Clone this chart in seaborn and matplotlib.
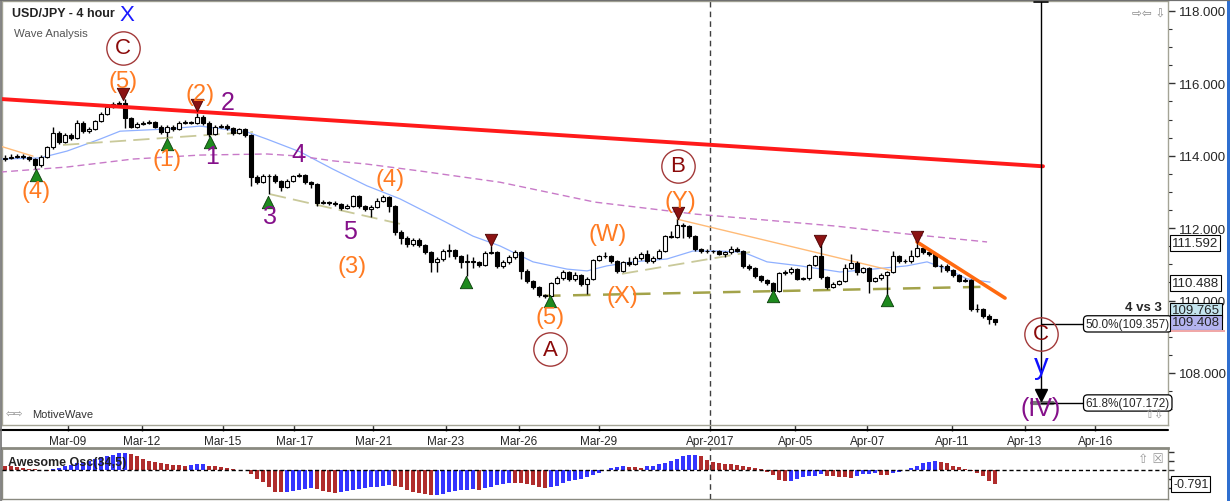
import numpy as np
import pandas as pd
import matplotlib
matplotlib.use("Agg")
import matplotlib.pyplot as plt
from matplotlib.lines import Line2D
from matplotlib.patches import Rectangle
import seaborn as sns

# ------------------------------------------------------------------ data
first_open = 113.91
closes = [113.94,113.97,113.99,113.97,113.91,113.75,113.97,114.24,114.63,114.38,
 114.57,114.49,114.91,114.69,114.74,114.96,115.15,115.35,115.43,115.46,
 115.04,114.80,114.88,114.91,114.93,114.80,114.66,114.80,114.74,114.91,
 114.93,114.91,115.07,114.91,114.60,114.80,114.82,114.77,114.63,114.74,
 114.57,113.41,113.28,113.44,113.44,113.30,113.14,113.30,113.44,113.47,
 113.28,113.22,112.70,112.72,112.70,112.67,112.56,112.61,112.89,112.61,
 112.53,112.59,112.75,112.86,112.61,111.90,111.73,111.56,111.67,111.54,
 111.34,111.07,111.15,111.37,111.40,111.23,111.07,111.09,111.07,110.98,
 111.31,111.34,110.96,111.07,111.20,111.34,110.82,110.54,110.38,110.15,
 110.13,110.49,110.62,110.79,110.60,110.71,110.46,110.60,111.12,111.23,
 111.23,111.09,110.82,111.07,111.01,111.18,111.29,111.09,111.18,111.37,
 111.78,111.76,112.09,112.06,111.78,111.43,111.37,111.37,111.37,111.29,
 111.34,111.43,111.37,110.96,110.90,110.68,110.57,110.49,110.27,110.76,
 110.79,110.87,110.60,110.62,110.98,111.23,110.65,110.38,110.46,110.54,
 110.90,111.04,110.79,110.90,110.54,110.62,110.71,110.79,111.23,111.09,
 111.09,111.23,111.45,111.34,111.29,110.96,110.96,110.85,110.71,110.54,
 110.57,109.77,109.77,109.57,109.49,109.41]
highs = [114.02,114.04,114.06,114.05,114.00,113.95,114.02,114.28,114.80,114.68,
 114.62,114.62,114.98,114.95,114.80,115.00,115.20,115.40,115.48,115.52,
 115.57,115.08,114.92,114.95,115.00,114.97,114.84,114.86,114.85,114.96,
 114.98,114.97,115.18,115.12,114.95,114.85,114.87,114.88,114.80,114.78,
 114.78,114.60,113.46,113.49,113.50,113.50,113.34,113.35,113.48,113.52,
 113.50,113.30,113.25,112.78,112.76,112.76,112.70,112.66,112.93,112.92,
 112.64,112.64,112.84,112.92,112.90,112.64,111.94,111.78,111.72,111.72,
 111.57,111.38,111.20,111.42,111.57,111.43,111.27,111.30,111.20,111.10,
 111.36,111.51,111.38,111.12,111.25,111.40,111.38,110.86,110.58,110.40,
 110.18,110.52,110.68,110.84,110.82,110.78,110.74,110.65,111.15,111.27,
 111.33,111.26,111.12,111.10,111.20,111.22,111.33,111.40,111.22,111.42,
 111.82,111.92,112.25,112.13,112.10,111.80,111.46,111.42,111.41,111.40,
 111.38,111.50,111.48,111.40,111.00,110.93,110.72,110.60,110.52,110.80,
 110.84,110.92,110.90,110.66,111.02,111.27,111.62,110.68,110.50,110.58,
 111.00,111.30,111.08,110.94,110.93,110.66,110.75,110.83,111.38,111.26,
 111.14,111.40,111.62,111.48,111.38,111.32,111.02,111.00,110.88,110.74,
 110.62,110.60,109.90,109.80,109.62,109.50]
lows = [113.86,113.90,113.93,113.92,113.85,113.63,113.70,113.94,114.20,114.33,
 114.34,114.44,114.46,114.64,114.64,114.70,114.93,115.12,115.32,115.40,
 114.78,114.76,114.77,114.84,114.87,114.76,114.60,114.52,114.69,114.70,
 114.88,114.87,114.88,114.86,114.52,114.57,114.77,114.72,114.58,114.60,
 114.52,113.17,113.22,113.24,112.94,113.25,113.04,113.10,113.27,113.41,
 113.23,113.10,112.62,112.66,112.65,112.62,112.50,112.52,112.58,112.56,
 112.48,112.31,112.55,112.72,112.45,111.82,111.56,111.48,111.52,111.47,
 111.28,110.78,110.80,111.10,111.20,111.15,110.90,110.68,110.90,110.94,
 110.95,111.28,110.90,110.90,111.02,111.15,110.60,110.48,110.32,110.10,
 110.07,110.10,110.45,110.58,110.55,110.55,110.40,110.18,110.56,111.08,
 111.18,111.05,110.75,110.78,110.96,110.98,111.13,111.05,111.05,111.14,
 111.33,111.72,111.72,111.74,111.73,111.38,111.32,111.31,111.32,111.25,
 111.20,111.30,111.33,110.90,110.85,110.62,110.52,110.44,110.21,110.24,
 110.72,110.74,110.56,110.57,110.58,110.95,110.60,110.33,110.35,110.42,
 110.50,110.86,110.70,110.75,110.22,110.50,110.58,109.88,110.76,111.05,
 111.04,111.05,111.20,111.30,111.22,110.92,110.80,110.78,110.66,110.50,
 110.50,109.70,109.68,109.52,109.36,109.33]
ao_values = [0.24,0.21,0.15,0.09,0.06,0.04,0.01,-0.04,0.06,0.11,
 0.24,0.30,0.40,0.47,0.53,0.62,0.72,0.77,0.87,0.96,
 0.98,0.90,0.81,0.62,0.49,0.43,0.40,0.34,0.30,0.26,
 0.24,0.28,0.32,0.36,0.24,0.21,0.15,0.09,0.06,0.02,
 -0.02,-0.23,-0.51,-0.70,-0.98,-1.22,-1.26,-1.22,-1.17,-1.11,
 -1.07,-1.04,-1.07,-1.17,-1.22,-1.28,-1.24,-1.19,-1.13,-1.07,
 -1.04,-0.98,-0.94,-0.89,-0.85,-0.89,-0.98,-1.11,-1.22,-1.30,
 -1.36,-1.43,-1.41,-1.36,-1.26,-1.17,-1.13,-1.11,-1.09,-1.11,
 -1.04,-0.94,-0.85,-0.79,-0.72,-0.73,-0.75,-0.79,-0.87,-0.94,
 -1.00,-0.98,-0.89,-0.73,-0.60,-0.55,-0.51,-0.41,-0.28,-0.17,
 0.02,0.13,0.19,0.21,0.17,0.15,0.13,0.21,0.24,0.34,
 0.40,0.49,0.62,0.77,0.85,0.87,0.77,0.58,0.47,0.38,
 0.36,0.34,0.28,0.24,0.15,0.09,0.04,-0.13,-0.26,-0.56,
 -0.62,-0.60,-0.51,-0.41,-0.36,-0.32,-0.24,-0.32,-0.36,-0.40,
 -0.41,-0.43,-0.36,-0.24,-0.21,-0.19,-0.26,-0.28,-0.19,-0.09,
 0.02,0.09,0.24,0.38,0.43,0.49,0.47,0.38,0.24,0.15,
 0.04,-0.04,-0.17,-0.36,-0.60,-0.79]

date_ticks = [10.5, 22.8, 36.3, 48.2, 61.4, 73.5, 85.6, 99.0, 117.5, 131.7, 143.7, 157.8, 170.0, 181.7]
date_labels = ["Mar-09", "Mar-12", "Mar-15", "Mar-17", "Mar-21", "Mar-23", "Mar-26",
               "Mar-29", "Apr-2017", "Apr-05", "Apr-07", "Apr-11", "Apr-13", "Apr-16"]

# moving averages read at anchor bars
ma_fast_x = [-0.83, 5.83, 10.33, 15.83, 19.17, 27.0, 32.5, 40.33, 43.67, 49.17, 54.67, 60.33,
             65.83, 72.5, 78.0, 82.5, 88.0, 93.67, 97.0, 100.33, 104.67, 110.33, 114.67,
             118.67, 123.0, 127.0, 132.5, 139.17, 144.67, 150.33, 153.67, 157.0, 160.33, 164.17]
ma_fast_y = [113.91, 113.94, 114.13, 114.46, 114.68, 114.74, 114.82, 114.66, 114.46, 114.11,
             113.63, 113.17, 112.81, 112.25, 111.78, 111.51, 111.07, 110.87, 110.82, 110.96,
             111.07, 111.15, 111.37, 111.37, 111.34, 111.07, 110.96, 110.79, 110.87, 110.96,
             111.07, 110.87, 110.60, 110.51]
ma_slow_x = [-0.83, 10.33, 21.33, 32.5, 43.67, 49.17, 54.67, 60.33, 69.17, 82.5, 98.33,
             115.0, 125.0, 138.33, 150.33, 163.67]
ma_slow_y = [113.55, 113.69, 113.91, 114.02, 114.05, 113.99, 113.86, 113.77, 113.58, 113.27,
             112.72, 112.39, 112.25, 112.06, 111.84, 111.62]

# trend lines (bar index, price)
red_line_x, red_line_y = [-0.83, 173.0], [115.57, 113.71]
orange_line_x, orange_line_y = [152.0, 166.67], [111.62, 110.07]
olive_line_x, olive_line_y = [89.67, 163.0], [110.13, 110.38]
khaki_lines = [([9.67, 41.33], [114.30, 114.66]),
               ([44.17, 65.83], [112.94, 112.12]),
               ([102.83, 124.17], [110.74, 111.34])]
peach_lines = [([-0.83, 4.67], [114.27, 113.99]),
               ([112.0, 148.0], [112.25, 110.82])]

# swing markers
tops_x = [19.67, 32.0, 81.0, 112.17, 135.83, 152.0]
tops_y = [115.71, 115.40, 111.67, 112.42, 111.65, 111.76]
bottoms_x = [5.17, 27.0, 34.17, 43.83, 76.83, 90.83, 128.0, 147.0]
bottoms_y = [113.47, 114.33, 114.38, 112.72, 110.51, 109.99, 110.13, 110.02]

# wave labels
orange_labels = [("(5)", 19.67, 116.07), ("(2)", 32.5, 115.71), ("(1)", 27.0, 113.91),
                 ("(4)", 5.17, 113.03), ("(4)", 64.17, 113.36), ("(3)", 57.83, 110.96),
                 ("(5)", 90.83, 109.55), ("(W)", 100.5, 111.84), ("(X)", 102.83, 110.12),
                 ("(Y)", 112.5, 112.75)]
purple_labels = [("2", 37.17, 115.49), ("1", 34.5, 114.0), ("4", 48.83, 114.05),
                 ("3", 44.17, 112.34), ("5", 57.5, 111.92), ("(IV)", 172.67, 107.04)]
circle_labels = [("C", 19.67, 116.98), ("A", 90.83, 108.66), ("B", 112.17, 113.72),
                 ("C", 172.67, 109.08)]

proj_x = 172.67
fib_levels = [109.357, 107.172]
fib_texts = ["50.0%(109.357)", "61.8%(107.172)"]
price_ticks = [108, 110, 112, 114, 116, 118]
price_boxes = [("111.592", 111.592, "white"), ("110.488", 110.488, "white"),
               ("109.765", 109.73, "#c4e4ee"), ("109.408", 109.40, "#b3b3ef")]
ao_last = -0.791

# ------------------------------------------------------------------ style
sns.set_theme(style="white")
plt.rcParams["font.family"] = ["Liberation Sans", "DejaVu Sans"]

W, H = 1230, 502
fig = plt.figure(figsize=(W / 100, H / 100), dpi=100)
fig.patch.set_facecolor("white")

def fx(px):
    return px / W

def fy(py):
    return 1 - py / H

ax = fig.add_axes([fx(2), fy(426), fx(1168) - fx(2), fy(2) - fy(426)])
ax2 = fig.add_axes([fx(2), fy(500), fx(1168) - fx(2), fy(449) - fy(500)])

XMIN, XMAX = -0.5, 193.83
ax.set_xlim(XMIN, XMAX)
ax.set_ylim(106.5635, 118.276)

n = len(closes)
idx = np.arange(n)
opens = np.array([first_open] + closes[:-1])
cl = np.array(closes)

# ---- candles
ax.vlines(idx, lows, highs, color="black", lw=1, zorder=4)
bottom = np.minimum(opens, cl)
height = np.maximum(np.abs(cl - opens), 0.004)
face = np.where(cl >= opens, "white", "black")
ax.bar(idx, height, bottom=bottom, width=0.66, color=face, edgecolor="black",
       linewidth=0.8, zorder=5)

# ---- moving averages and trend lines (seaborn)
sns.lineplot(x=ma_fast_x, y=ma_fast_y, ax=ax, color="#8fb0ff", lw=0.9, sort=False,
             estimator=None, zorder=3)
sns.lineplot(x=ma_slow_x, y=ma_slow_y, ax=ax, color="#c87ac8", lw=1.0, sort=False,
             estimator=None, linestyle=(0, (5, 3)), zorder=3)
for lx, ly in peach_lines:
    sns.lineplot(x=lx, y=ly, ax=ax, color="#ffbb77", lw=1.0, sort=False, estimator=None, zorder=3)
for lx, ly in khaki_lines:
    sns.lineplot(x=lx, y=ly, ax=ax, color="#c9c99a", lw=1.3, sort=False, estimator=None,
                 linestyle=(0, (9, 4)), zorder=3)
sns.lineplot(x=olive_line_x, y=olive_line_y, ax=ax, color="#a3a34a", lw=1.8, sort=False,
             estimator=None, linestyle=(0, (7, 5)), zorder=3)
sns.lineplot(x=red_line_x, y=red_line_y, ax=ax, color="#ff1a1a", lw=2.8, sort=False,
             estimator=None, zorder=6)
sns.lineplot(x=orange_line_x, y=orange_line_y, ax=ax, color="#ff6a10", lw=2.6, sort=False,
             estimator=None, zorder=6)

# vertical dashed separator
ax.axvline(117.5, color="#404040", lw=1, linestyle=(0, (4, 3)), zorder=2)

# ---- swing markers
ax.scatter(tops_x, tops_y, marker="v", s=80, c="#8b1212", edgecolors="#4a0000",
           linewidths=0.6, zorder=7)
ax.scatter(bottoms_x, bottoms_y, marker="^", s=80, c="#1e8a1e", edgecolors="#0a3d0a",
           linewidths=0.6, zorder=7)

# ---- labels
for t, x, y in orange_labels:
    ax.text(x, y, t, color="#ff7b22", fontsize=17, ha="center", va="center", zorder=8)
for t, x, y in purple_labels:
    ax.text(x, y, t, color="#85108a", fontsize=18, ha="center", va="center", zorder=8)
for t, x, y in circle_labels:
    ax.plot([x], [y], marker="o", ms=24, mfc="none", mec="#a33a3a", mew=1.0, zorder=8)
    ax.text(x, y, t, color="#8b0a0a", fontsize=16, ha="center", va="center", zorder=9)

# projection line with fib levels
ax.plot([proj_x, proj_x], [118.25, 107.45], color="black", lw=1, zorder=6)
ax.plot([proj_x - 1.2, proj_x + 1.2], [118.25, 118.25], color="black", lw=1.2, zorder=6)
ax.plot([proj_x], [107.40], marker="v", ms=8, color="black", zorder=7)
ax.plot([proj_x - 1.5, proj_x + 2.0], [fib_levels[1], fib_levels[1]], color="#777777", lw=3, zorder=6)
for lv, tx in zip(fib_levels, fib_texts):
    ax.plot([proj_x, 179.9], [lv, lv], color="black", lw=1, zorder=6)
    ax.text(180.1, lv, tx, fontsize=8.5, ha="left", va="center", zorder=9,
            bbox=dict(boxstyle="round,pad=0.18,rounding_size=0.35", fc="white", ec="black", lw=0.9))
ax.text(proj_x, 108.22, "y", color="#1010ff", fontsize=21, ha="center", va="center", zorder=9)
ax.text(192.8, 109.82, "4 vs 3", fontsize=9.5, fontweight="bold", ha="right", va="center", zorder=9)

# title texts
ax.text(0.009, 0.972, "USD/JPY - 4 hour", transform=ax.transAxes, fontsize=9,
        fontweight="bold", color="#222222", ha="left", va="center", zorder=9)
ax.text(0.1075, 0.969, "X", transform=ax.transAxes, fontsize=16, color="#1a1aff",
        ha="center", va="center", zorder=9)
ax.text(0.010, 0.925, "Wave Analysis", transform=ax.transAxes, fontsize=8.2,
        color="#555555", ha="left", va="center", zorder=9)
ax.text(0.003, 0.027, "\u21e6\u21e8", transform=ax.transAxes, fontsize=7.5, color="#888888",
        ha="left", va="center", family=["DejaVu Sans"], zorder=9)
ax.text(0.026, 0.027, "MotiveWave", transform=ax.transAxes, fontsize=8, color="#333333",
        ha="left", va="center", zorder=9)
ax.text(0.998, 0.972, "\u21e8\u21e6 \u21e9", transform=ax.transAxes, fontsize=8.5,
        color="#888888", ha="right", va="center", family=["DejaVu Sans"], zorder=9)
ax.text(0.996, 0.027, "\u21e7\u21e9", transform=ax.transAxes, fontsize=8.5,
        color="#999999", ha="right", va="center", family=["DejaVu Sans"], zorder=9)

# ---- axes styling
for s in ax.spines.values():
    s.set_color("#a4a496")
    s.set_linewidth(1.0)
ax.yaxis.tick_right()
ax.set_yticks(price_ticks)
ax.set_yticklabels([f"{p:.3f}" for p in price_ticks], fontsize=9.5)
ax.set_yticks(np.arange(107, 118.3, 0.5), minor=True)
ax.tick_params(axis="y", which="major", direction="out", length=5, width=1, color="#333333",
               pad=3, right=True, left=False)
ax.tick_params(axis="y", which="minor", direction="out", length=3, width=0.8,
               color="#333333", right=True, left=False)
ax.set_xticks(date_ticks)
ax.set_xticklabels(date_labels, fontsize=8.5)
ax.tick_params(axis="x", which="major", direction="out", length=4, width=1, color="#333333",
               pad=3.5, bottom=True)
ax.set_xlabel("")
ax.set_ylabel("")
ax.grid(False)

ytr = ax.get_yaxis_transform()
for txt, val, col in price_boxes:
    ax.text(1.0035, val, txt, transform=ytr, fontsize=9.5, ha="left", va="center", zorder=10,
            clip_on=False,
            bbox=dict(boxstyle="square,pad=0.12", fc=col, ec="black", lw=0.8))

# ---- Awesome oscillator (seaborn bars)
ao = np.array(ao_values)
prev = np.concatenate([[ao[0] + 0.01], ao[:-1]])
direction = np.where(ao > prev, "up", "down")
ao_df = pd.DataFrame({"bar": idx, "ao": ao, "dir": direction})
sns.barplot(data=ao_df, x="bar", y="ao", hue="dir", palette={"up": "#3434ff", "down": "#b02c2c"},
            native_scale=True, dodge=False, width=0.82, errorbar=None, legend=False,
            saturation=1, ax=ax2, zorder=3, linewidth=0)
ax2.set_xlim(XMIN, XMAX)
ax2.set_ylim(-1.64, 1.24)
ax2.axhline(0, color="black", lw=1, linestyle=(0, (3, 2)), zorder=4)
ax2.axvline(117.5, color="#404040", lw=1, linestyle=(0, (4, 3)), zorder=4)
ax2.set_xticks([])
ax2.set_xlabel("")
ax2.set_ylabel("")
ax2.yaxis.tick_right()
ax2.set_yticks([-1.0, -0.5, 0.0, 0.5, 1.0])
ax2.set_yticklabels([])
ax2.tick_params(axis="y", direction="out", length=4, width=1, color="#333333", right=True, left=False)
for name, s in ax2.spines.items():
    s.set_color("#8a8a80")
    s.set_linewidth(1.0)
ax2.spines["top"].set_linewidth(2.0)
ax2.text(0.005, 0.72, "Awesome Osc(34,5)", transform=ax2.transAxes, fontsize=9,
         fontweight="bold", color="#222222", ha="left", va="center", zorder=6)
ax2.text(0.996, 0.80, "\u21e7 \u2612", transform=ax2.transAxes, fontsize=9, color="#999999",
         ha="right", va="center", family=["DejaVu Sans"], zorder=6)
ax2.text(1.0045, ao_last, "-0.791", transform=ax2.get_yaxis_transform(), fontsize=9,
         ha="left", va="center", clip_on=False, zorder=10,
         bbox=dict(boxstyle="square,pad=0.15", fc="white", ec="black", lw=0.8))

# ---- window frame pieces
fig.add_artist(Line2D([0, fx(1168)], [fy(431), fy(431)], color="black", lw=1.5))
fig.add_artist(Line2D([0, 1], [fy(0.8), fy(0.8)], color="#707070", lw=1.6))
fig.add_artist(Rectangle((fx(1171), fy(333)), fx(54), 2 / H, color="#f0a8a8", lw=0))
fig.add_artist(Rectangle((fx(1226.5), 0), fx(3.5), 1, color="#2f6fd0", lw=0))
fig.add_artist(Line2D([fx(1), fx(1)], [0, 1], color="#707070", lw=1.2))

fig.savefig("out.png", dpi=100, facecolor="white")
